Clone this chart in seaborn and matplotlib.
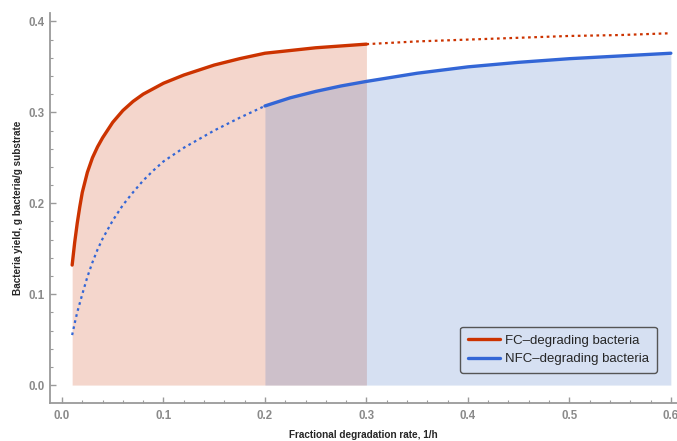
import matplotlib
matplotlib.use("Agg")
import matplotlib.pyplot as plt
import numpy as np
import seaborn as sns
from matplotlib.ticker import MultipleLocator, FormatStrFormatter

# values
rate = [0.01, 0.0125, 0.015, 0.0175, 0.02, 0.025, 0.03, 0.035, 0.04, 0.05, 0.06, 0.07,
        0.08, 0.09, 0.1, 0.12, 0.15, 0.175, 0.2, 0.225, 0.25, 0.275, 0.3, 0.35, 0.4,
        0.45, 0.5, 0.55, 0.6]
fc_yield = [0.132, 0.157, 0.178, 0.196, 0.212, 0.234, 0.250, 0.262, 0.272, 0.289, 0.302, 0.312,
            0.320, 0.326, 0.332, 0.341, 0.352, 0.359, 0.365, 0.368, 0.371, 0.373, 0.375, 0.378,
            0.380, 0.382, 0.384, 0.385, 0.387]
nfc_yield = [0.055, 0.068, 0.080, 0.090, 0.100, 0.119, 0.135, 0.149, 0.161, 0.181, 0.198, 0.212,
             0.225, 0.236, 0.246, 0.261, 0.280, 0.294, 0.307, 0.316, 0.323, 0.329, 0.334, 0.343,
             0.350, 0.355, 0.359, 0.362, 0.365]
fc_range = (0.01, 0.3)
nfc_range = (0.2, 0.6)
labels = ["FC\u2013degrading bacteria", "NFC\u2013degrading bacteria"]

red = "#cc3300"
blue = "#3366d6"

sns.set_style("ticks")
plt.rcParams["font.family"] = ["Liberation Sans", "DejaVu Sans"]

x = np.array(rate)
fc = np.array(fc_yield)
nfc = np.array(nfc_yield)

fig = plt.figure(figsize=(6.77, 4.41), dpi=100)
ax = fig.add_axes([0.0739, 0.086, 0.926, 0.884])

# shaded ranges
m_fc = (x >= fc_range[0]) & (x <= fc_range[1])
m_nfc = (x >= nfc_range[0]) & (x <= nfc_range[1])
ax.fill_between(x[m_fc], 0, fc[m_fc], color="#f4d6cc", linewidth=0, zorder=1)
ax.fill_between(x[m_nfc], 0, nfc[m_nfc], color=(0.27, 0.45, 0.78), alpha=0.22,
                linewidth=0, zorder=2)

# red curve: solid inside its range, dotted beyond
sns.lineplot(x=x[m_fc], y=fc[m_fc], ax=ax, color=red, linewidth=2.4,
             estimator=None, sort=False, label=labels[0], zorder=4)
sns.lineplot(x=x[x >= fc_range[1]], y=fc[x >= fc_range[1]], ax=ax, color=red,
             linewidth=1.6, linestyle=(0, (1.2, 1.6)), estimator=None, sort=False, zorder=4)
# blue curve: dotted before its range, solid inside
sns.lineplot(x=x[x <= nfc_range[0]], y=nfc[x <= nfc_range[0]], ax=ax, color=blue,
             linewidth=1.6, linestyle=(0, (1.2, 1.6)), estimator=None, sort=False, zorder=4)
sns.lineplot(x=x[m_nfc], y=nfc[m_nfc], ax=ax, color=blue, linewidth=2.4,
             estimator=None, sort=False, label=labels[1], zorder=4)

ax.set_xlim(-0.0118, 0.606)
ax.set_ylim(-0.0198, 0.409)
ax.xaxis.set_major_locator(MultipleLocator(0.1))
ax.xaxis.set_minor_locator(MultipleLocator(0.02))
ax.yaxis.set_major_locator(MultipleLocator(0.1))
ax.yaxis.set_minor_locator(MultipleLocator(0.02))
ax.xaxis.set_major_formatter(FormatStrFormatter("%.1f"))
ax.yaxis.set_major_formatter(FormatStrFormatter("%.1f"))

sns.despine(ax=ax)
for side in ["left", "bottom"]:
    ax.spines[side].set_color("#9a9a9a")
    ax.spines[side].set_linewidth(1.3)
ax.tick_params(which="both", direction="in", color="#9a9a9a", labelcolor="#8a8a8a",
               labelsize=8.3)
ax.tick_params(which="major", length=4, width=1)
ax.tick_params(which="minor", length=2.2, width=0.8)
ax.tick_params(axis="x", pad=5)
ax.tick_params(axis="y", pad=4)
for t in ax.get_xticklabels() + ax.get_yticklabels():
    t.set_fontweight("bold")

ax.set_xlabel("Fractional degradation rate, 1/h", fontsize=7.2, fontweight="bold",
              labelpad=6)
ax.set_ylabel("Bacteria yield, g bacteria/g substrate", fontsize=7.2, fontweight="bold",
              labelpad=4)

leg = ax.legend(loc="lower right", bbox_to_anchor=(0.968, 0.077), borderaxespad=0,
                fontsize=9.5, handlelength=2.4, handletextpad=0.4, fancybox=True,
                frameon=True, borderpad=0.6, labelspacing=0.45)
frame = leg.get_frame()
frame.set_facecolor("none")
frame.set_edgecolor("#555555")
frame.set_alpha(None)
frame.set_linewidth(1.0)
for line in leg.get_lines():
    line.set_linewidth(2.4)

fig.savefig("out.png", dpi=100)
